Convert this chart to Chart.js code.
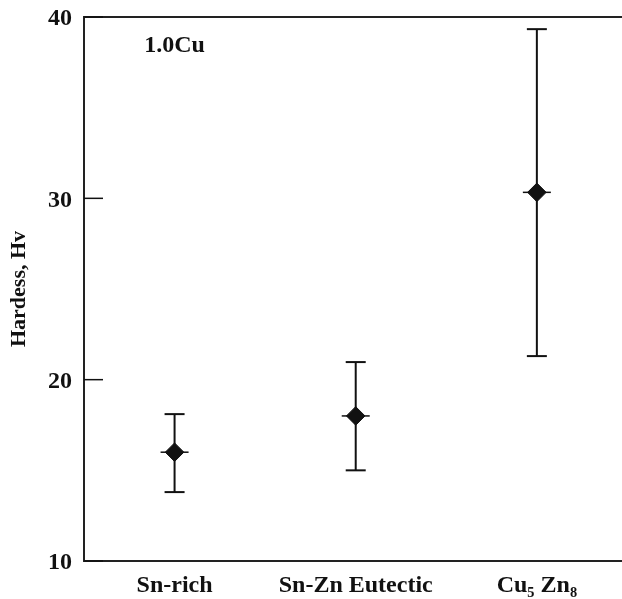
<!DOCTYPE html>
<html>
<head>
<meta charset="utf-8">
<script src="https://cdn.jsdelivr.net/npm/chart.js@4.4.0/dist/chart.umd.min.js"></script>
<style>
  html, body { margin: 0; padding: 0; background: #fff; }
  canvas { display: block; }
</style>
</head>
<body>
<canvas id="c" width="622" height="599"></canvas>
<script>
// ---- data ----
const categories = ['Sn-rich', 'Sn-Zn Eutectic', 'Cu\u2085 Zn\u2088'];
const categoryIndex = [0, 1, 2];
const hardnessMean = [16.0, 18.0, 30.33];
const hardnessHigh = [18.1, 20.97, 39.33];
const hardnessLow = [13.8, 15.0, 21.3];
const yTicks = [10, 20, 30, 40];
const annotationText = '1.0Cu';
const annotationPos = { x: 0, y: 38.4 };

const FONT = "'Liberation Serif', 'Times New Roman', serif";
const INK = '#111';

const datasets = [];
// diamonds (on top)
datasets.push({
  data: categoryIndex.map((c, i) => ({ x: c, y: hardnessMean[i] })),
  pointStyle: 'rectRot', pointRadius: 9.3, pointBackgroundColor: INK,
  pointBorderColor: INK, pointBorderWidth: 1, showLine: false
});
// crossbar through the mean
datasets.push({
  data: categoryIndex.map((c, i) => ({ x: c, y: hardnessMean[i] })),
  pointStyle: 'line', pointRadius: 14, pointBorderColor: INK,
  pointBorderWidth: 1.5, showLine: false
});
// error bars
categoryIndex.forEach((c, i) => {
  datasets.push({
    data: [{ x: c, y: hardnessLow[i] }, { x: c, y: hardnessHigh[i] }],
    showLine: true, borderColor: INK, borderWidth: 2,
    pointStyle: 'line', pointRadius: 10, pointBorderColor: INK, pointBorderWidth: 2
  });
});

const decor = {
  id: 'decor',
  afterDraw(chart) {
    const { ctx, chartArea, scales } = chart;
    ctx.save();
    // top frame line
    ctx.strokeStyle = '#222';
    ctx.lineWidth = 2;
    ctx.beginPath();
    ctx.moveTo(chartArea.left - 1, chartArea.top);
    ctx.lineTo(chartArea.right, chartArea.top);
    ctx.stroke();
    // inward y ticks
    ctx.lineWidth = 1.5;
    ctx.strokeStyle = INK;
    yTicks.forEach(v => {
      const y = scales.y.getPixelForValue(v);
      ctx.beginPath();
      ctx.moveTo(chartArea.left, y);
      ctx.lineTo(chartArea.left + 19, y);
      ctx.stroke();
    });
    // annotation
    ctx.fillStyle = INK;
    ctx.font = 'bold 24px ' + FONT;
    ctx.textAlign = 'center';
    ctx.textBaseline = 'middle';
    ctx.fillText(annotationText, scales.x.getPixelForValue(annotationPos.x), scales.y.getPixelForValue(annotationPos.y));
    ctx.restore();
  }
};

new Chart(document.getElementById('c'), {
  type: 'scatter',
  data: { datasets },
  options: {
    responsive: false,
    animation: false,
    devicePixelRatio: 1,
    layout: { autoPadding: false, padding: { left: 0, right: 0, top: 17, bottom: 0 } },
    plugins: { legend: { display: false }, tooltip: { enabled: false } },
    scales: {
      x: {
        type: 'linear', min: -0.5, max: 2.47,
        afterBuildTicks: s => { s.ticks = categoryIndex.map(v => ({ value: v })); },
        afterFit: s => { s.paddingLeft = 0; s.paddingRight = 0; s.height = 38; },
        ticks: {
          callback: v => categories[v] ?? '',
          color: INK, font: { family: FONT, size: 24, weight: 'bold' }, padding: 10,
          maxRotation: 0, autoSkip: false
        },
        grid: { display: false, drawTicks: false },
        border: { display: true, color: '#222', width: 2 }
      },
      y: {
        min: 10, max: 40,
        afterBuildTicks: s => { s.ticks = yTicks.map(v => ({ value: v })); },
        afterFit: s => { s.width = 84; s.paddingTop = 0; s.paddingBottom = 0; },
        ticks: { color: INK, font: { family: FONT, size: 24, weight: 'bold' }, padding: 12, labelOffset: 2 },
        grid: { display: false, drawTicks: false },
        border: { display: true, color: '#222', width: 2 },
        title: { display: true, text: 'Hardess, Hv', color: INK,
                 font: { family: FONT, size: 22, weight: 'bold' }, padding: { top: 6, bottom: 0 } }
      }
    }
  },
  plugins: [decor]
});
</script>
</body>
</html>
